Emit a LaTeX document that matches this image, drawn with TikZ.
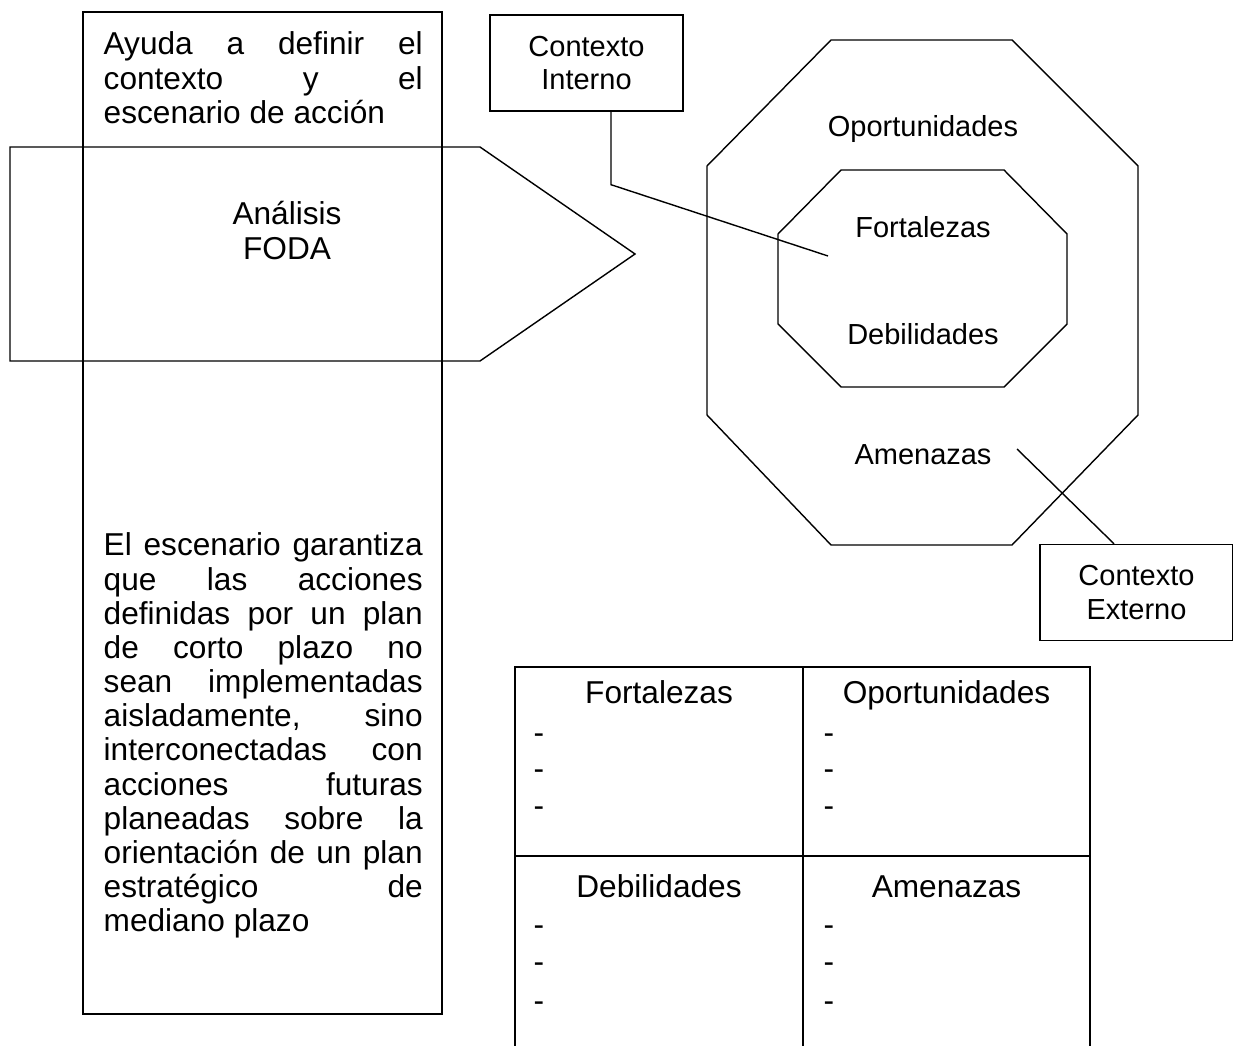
\documentclass[tikz,border=0pt]{standalone}
\usepackage{fontspec}
\setmainfont{Liberation Sans}
\newcommand{\octfont}{\fontsize{8.25pt}{9.64pt}\selectfont}
\newcommand{\bodyfont}{\fontsize{9pt}{9.72pt}\selectfont}
\tolerance=10000
\hyphenpenalty=10000
\hbadness=10000

\begin{document}
\begin{tikzpicture}[
    ctxbox/.style={draw, text width=1.93cm, minimum height=0.96cm, inner sep=0pt, align=center, font=\octfont},
    octlabel/.style={anchor=base, inner sep=0pt, font=\octfont},
    celltitle/.style={anchor=base, inner sep=0pt, font=\bodyfont},
    celldash/.style={anchor=base west, inner sep=0pt, font=\bodyfont},
    bodytext/.style={anchor=base west, text width=3.19cm, align=justify, inner sep=0pt, font=\bodyfont}]

\useasboundingbox (0,0) rectangle (12.33,-10.46);

\draw (0.83,-0.12) rectangle (4.42,-10.14);
\draw (0.10,-1.47) -- (4.80,-1.47) -- (6.35,-2.54) -- (4.80,-3.61) -- (0.10,-3.61) -- cycle;

\node [bodytext] (ayuda) at (1.03,-0.55) {Ayuda a definir el\linebreak contexto y el\linebreak escenario de acción};
\node [anchor=base, text width=2.5cm, align=center, inner sep=0pt, font=\bodyfont] (foda) at (2.87,-2.25) {Análisis\\FODA};
\node [bodytext] (escenario) at (1.03,-5.56) {El escenario garantiza\linebreak que las acciones\linebreak definidas por un plan\linebreak de corto plazo no\linebreak sean implementadas\linebreak aisladamente, sino\linebreak interconectadas con\linebreak acciones futuras\linebreak planeadas sobre la\linebreak orientación de un plan\linebreak estratégico de\linebreak mediano plazo};

\draw (8.31,-0.40) -- (10.12,-0.40) -- (11.38,-1.66) -- (11.38,-4.15) -- (10.12,-5.45) -- (8.31,-5.45) -- (7.07,-4.15) -- (7.07,-1.66) -- cycle;
\draw (8.41,-1.70) -- (10.04,-1.70) -- (10.67,-2.34) -- (10.67,-3.24) -- (10.04,-3.87) -- (8.41,-3.87) -- (7.78,-3.24) -- (7.78,-2.34) -- cycle;

\node [octlabel] (oport) at (9.23,-1.365) {Oportunidades};
\node [octlabel] (fort) at (9.23,-2.375) {Fortalezas};
\node [octlabel] (debil) at (9.23,-3.445) {Debilidades};
\node [octlabel] (amen) at (9.23,-4.645) {Amenazas};

\node [ctxbox] (interno) at (5.865,-0.63) {Contexto\\Interno};
\coordinate (fortpt) at (8.28,-2.56);
\draw ([xshift=2.45mm]interno.south) -- ++(0,-0.73) -- (fortpt);

\node [ctxbox] (externo) at (11.365,-5.925) {Contexto\\Externo};
\coordinate (amenpt) at (10.17,-4.49);
\draw (amenpt) -- ([xshift=-2.25mm]externo.north);

\draw (5.15,-10.46) -- (5.15,-6.67) -- (10.90,-6.67) -- (10.90,-10.46);
\draw (8.03,-6.67) -- (8.03,-10.46);
\draw (5.15,-8.56) -- (10.90,-8.56);

\node [celltitle] (tfort) at (6.59,-7.04) {Fortalezas};
\node [celltitle] (toport) at (9.465,-7.04) {Oportunidades};
\node [celltitle] (tdebil) at (6.59,-8.97) {Debilidades};
\node [celltitle] (tamen) at (9.465,-8.97) {Amenazas};

\foreach \yy/\k in {7.44/1,7.80/2,8.17/3}{
    \node [celldash] (fd\k) at (5.33,-\yy) {-};
    \node [celldash] (od\k) at (8.23,-\yy) {-};
}
\foreach \yy/\k in {9.35/1,9.72/2,10.11/3}{
    \node [celldash] (dd\k) at (5.33,-\yy) {-};
    \node [celldash] (ad\k) at (8.23,-\yy) {-};
}

\end{tikzpicture}
\end{document}
